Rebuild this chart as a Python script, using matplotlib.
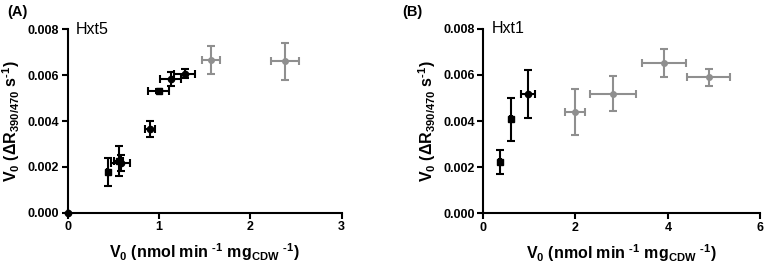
import matplotlib
matplotlib.use("Agg")
import matplotlib.pyplot as plt

# Hxt5 (panel A)
a_x = [0.0, 0.437, 0.56, 0.58, 0.90, 1.00, 1.13, 1.28]
a_y = [0.0, 0.00179, 0.00227, 0.00218, 0.00364, 0.00530, 0.00584, 0.00606]
a_xerr = [0.0, 0.01, 0.05, 0.10, 0.053, 0.115, 0.115, 0.118]
a_yerr = [0.0, 0.00062, 0.00065, 0.00035, 0.00035, 0.00010, 0.00030, 0.00019]
a_mk = ["o", "s", "s", "o", "o", "s", "o", "o"]
a_gx = [1.566, 2.38]
a_gy = [0.00667, 0.00660]
a_gxerr = [0.10, 0.15]
a_gyerr = [0.00060, 0.00080]

# Hxt1 (panel B)
b_x = [0.367, 0.598, 0.98]
b_y = [0.00223, 0.00407, 0.00516]
b_xerr = [0.02, 0.02, 0.15]
b_yerr = [0.00052, 0.00093, 0.00105]
b_mk = ["s", "s", "o"]
b_gx = [1.99, 2.81, 3.92, 4.88]
b_gy = [0.00440, 0.00519, 0.00652, 0.00590]
b_gxerr = [0.21, 0.49, 0.47, 0.46]
b_gyerr = [0.00100, 0.00077, 0.00062, 0.00037]

plt.rcParams['font.family'] = ['Liberation Sans', 'DejaVu Sans']
plt.rcParams['mathtext.fontset'] = 'custom'
plt.rcParams['mathtext.rm'] = 'Liberation Sans:bold'
plt.rcParams['mathtext.default'] = 'rm'

GRAY = '#8f8f8f'

fig = plt.figure(figsize=(7.68, 2.66), dpi=100)
axA = fig.add_axes([0.088, 0.200, 0.357, 0.690])
axB = fig.add_axes([0.629, 0.198, 0.361, 0.694])


def draw(ax, x, y, xe, ye, mk, gx, gy, gxe, gye, xmax, xticks, name):
    ax.errorbar(gx, gy, xerr=gxe, yerr=gye, fmt='o', color=GRAY, ms=4,
                elinewidth=1.5, capsize=3, capthick=1.5, clip_on=False)
    for i in range(len(x)):
        ax.errorbar(x[i], y[i], xerr=xe[i], yerr=ye[i], fmt=mk[i], color='black',
                    ms=4.5, elinewidth=1.5, capsize=3, capthick=1.5, clip_on=False,
                    zorder=5)
    ax.set_xlim(0, xmax)
    ax.set_ylim(0, 0.008)
    ax.set_xticks(xticks)
    ax.set_yticks([0, 0.002, 0.004, 0.006, 0.008])
    ax.set_yticklabels(['0.000', '0.002', '0.004', '0.006', '0.008'])
    for s in ['top', 'right']:
        ax.spines[s].set_visible(False)
    for s in ['left', 'bottom']:
        ax.spines[s].set_linewidth(1.5)
    ax.tick_params(direction='out', length=4, width=1.5, labelsize=9, pad=2)
    for lab in ax.get_xticklabels() + ax.get_yticklabels():
        lab.set_fontweight('bold')
    ax.set_xlabel(r'V$_0$ (nmol min $^{\text{-}1}$ mg$_{CDW}$ $^{\text{-}1}$)',
                  fontsize=11.5, fontweight='bold', labelpad=6)
    ax.set_ylabel(r'V$_0$ ($\Delta$R$_{390/470}$ s$^{\text{-}1}$)',
                  fontsize=11.5, fontweight='bold', labelpad=4)
    ax.text(0.03, 1.0, name, transform=ax.transAxes, fontsize=11.5,
            va='center', ha='left')


draw(axA, a_x, a_y, a_xerr, a_yerr, a_mk, a_gx, a_gy, a_gxerr, a_gyerr,
     3, [0, 1, 2, 3], 'Hxt5')
draw(axB, b_x, b_y, b_xerr, b_yerr, b_mk, b_gx, b_gy, b_gxerr, b_gyerr,
     6, [0, 2, 4, 6], 'Hxt1')

fig.text(0.010, 0.955, '(A)', fontsize=10.5, fontweight='bold', va='center', ha='left')
fig.text(0.524, 0.955, '(B)', fontsize=10.5, fontweight='bold', va='center', ha='left')

fig.savefig('out.png', dpi=100)
